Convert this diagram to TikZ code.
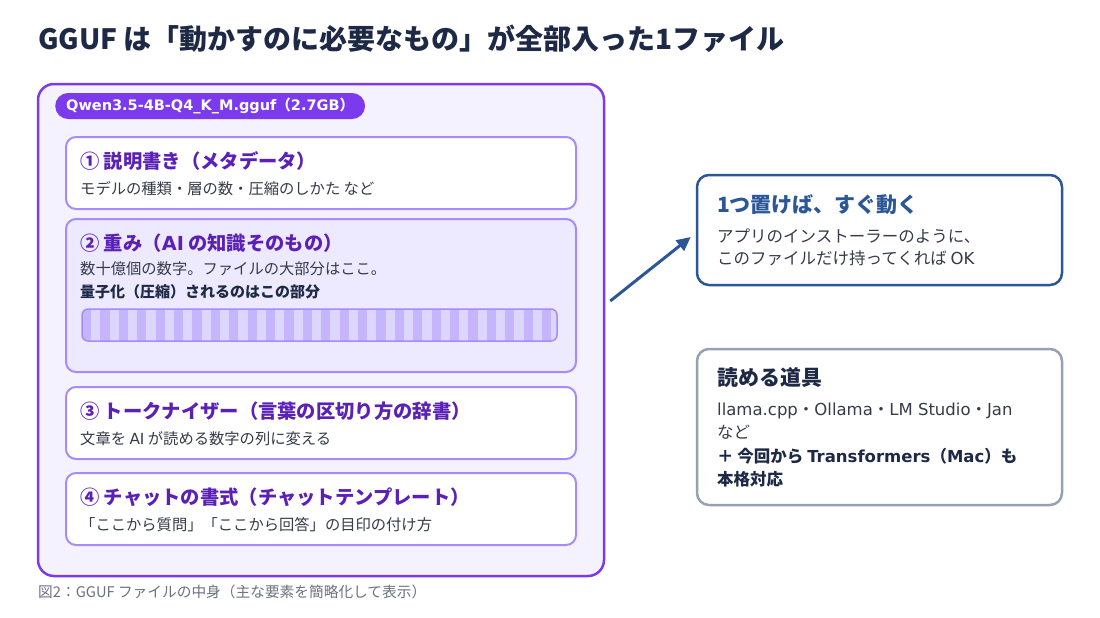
\documentclass[tikz,border=0pt]{standalone}
\usepackage{fontspec}
\setmainfont{Noto Sans CJK JP}
\newfontfamily\lat{DejaVu Sans}
\usetikzlibrary{arrows.meta,calc,positioning}

\definecolor{ink}{HTML}{1E2A45}
\definecolor{body}{HTML}{353B48}
\definecolor{violet}{HTML}{7C3AED}
\definecolor{violetdeep}{HTML}{5B21B6}
\definecolor{lilac}{HTML}{A78BFA}
\definecolor{lilacbg}{HTML}{F5F2FF}
\definecolor{lilacmid}{HTML}{EDE9FE}
\definecolor{stripedark}{HTML}{C4B5FD}
\definecolor{stripelight}{HTML}{DDD6FE}
\definecolor{navy}{HTML}{2B5797}
\definecolor{slate}{HTML}{97A1B6}
\definecolor{capgray}{HTML}{6B7280}

\begin{document}
\begin{tikzpicture}[x=1pt,y=-1pt,
  every node/.style={inner sep=0pt},
  txt/.style={anchor=base west, text=body, font=\fontsize{15.3pt}{18pt}\selectfont},
  txtbold/.style={txt, text=ink, font=\fontsize{15pt}{18pt}\selectfont\bfseries},
  sidetxt/.style={txt, font=\fontsize{16.5pt}{19pt}\selectfont},
  sidebold/.style={txt, text=ink, font=\fontsize{16.5pt}{19pt}\selectfont\bfseries},
  cardhead/.style={anchor=base west, text=violetdeep, font=\fontsize{19.3pt}{22pt}\selectfont\bfseries},
  card/.style={draw=lilac, line width=2pt, fill=white, rounded corners=10pt, minimum width=510pt},
  sidebox/.style={line width=2.5pt, fill=white, rounded corners=12pt, minimum width=365pt},
  sidehead/.style={anchor=base west, font=\fontsize{21pt}{24pt}\selectfont\bfseries}]
  \useasboundingbox (0,0) rectangle (1100,618);
  \fill[white] (0,0) rectangle (1100,618);
  % heading
  \node[anchor=base west, text=ink, font=\fontsize{28pt}{32pt}\selectfont\bfseries] (title) at (38,49)
    {GGUF は「動かすのに必要なもの」が全部入った1ファイル};
  % the file itself
  \node[draw=violet, line width=2.5pt, fill=lilacbg, rounded corners=16pt,
        minimum width=566pt, minimum height=492pt] (file) at (321,330) {};
  \node[anchor=west, fill=violet, text=white, rounded corners=13pt, minimum height=26pt, inner xsep=11pt,
        font=\fontsize{14.5pt}{18pt}\selectfont\bfseries] (fname) at (55,106)
    {{\lat Qwen3.5-4B-Q4\_K\_M.gguf}（{\lat 2.7GB}）};
  % 1 : metadata
  \node[card, minimum height=72pt] (meta) at (321,173) {};
  \node[cardhead] (metahead) at (80,168) {① 説明書き（メタデータ）};
  \node[txt] (metatext) at (80,194) {モデルの種類・層の数・圧縮のしかた など};
  % 2 : weights
  \node[card, fill=lilacmid, minimum height=153pt] (weights) at (321,295.5) {};
  \node[cardhead] (weightshead) at (80,250) {② 重み（{\lat AI} の知識そのもの）};
  \node[txt] (weightstext) at (80,274) {数十億個の数字。ファイルの大部分はここ。};
  \node[txtbold] (weightsnote) at (80,297) {量子化（圧縮）されるのはこの部分};
  \node[draw=lilac, line width=1.5pt, fill=stripelight, rounded corners=6pt,
        minimum width=475pt, minimum height=32pt,
        path picture={\foreach \i in {0,...,25}
          \fill[stripedark, sharp corners] ([xshift={18.4*\i}]path picture bounding box.north west) rectangle ++(9.2,32);}]
    (weightsbar) at (319.5,325) {};
  % 3 : tokenizer
  \node[card, minimum height=72pt] (tok) at (321,423) {};
  \node[cardhead] (tokhead) at (80,418) {③ トークナイザー（言葉の区切り方の辞書）};
  \node[txt] (toktext) at (80,444) {文章を {\lat AI} が読める数字の列に変える};
  % 4 : chat template
  \node[card, minimum height=72pt] (chat) at (321,509) {};
  \node[cardhead] (chathead) at (80,504) {④ チャットの書式（チャットテンプレート）};
  \node[txt] (chattext) at (80,530) {「ここから質問」「ここから回答」の目印の付け方};
  % caption
  \node[anchor=base west, text=capgray, font=\fontsize{14.7pt}{17pt}\selectfont] (caption) at (38,597)
    {図2：GGUF ファイルの中身（主な要素を簡略化して表示）};
  % right side
  \node[sidebox, draw=navy, minimum height=110pt] (run) at (879.5,230) {};
  \node[sidehead, text=navy] (runhead) at (717,212) {1つ置けば、すぐ動く};
  \node[sidetxt] (runtext1) at (717,242) {アプリのインストーラーのように、};
  \node[sidetxt] (runtext2) at (717,264) {このファイルだけ持ってくれば {\lat OK}};
  \node[sidebox, draw=slate, minimum height=156pt] (tools) at (879.5,427) {};
  \node[sidehead, text=ink] (toolshead) at (717,385) {読める道具};
  \node[sidetxt] (toolstext1) at (717,415) {{\lat llama.cpp}・{\lat Ollama}・{\lat LM Studio}・{\lat Jan}};
  \node[sidetxt] (toolstext2) at (717,438) {など};
  \node[sidebold] (toolsnew1) at (717,462) {＋ 今回から {\lat Transformers}（{\lat Mac}）も};
  \node[sidebold] (toolsnew2) at (717,485) {本格対応};
  % arrow
  \draw[navy, line width=3pt, -{Triangle[length=14pt,width=13pt]}]
    ([shift={(5,-29)}]file.east) -- ([shift={(-5,7)}]run.west);
\end{tikzpicture}
\end{document}
